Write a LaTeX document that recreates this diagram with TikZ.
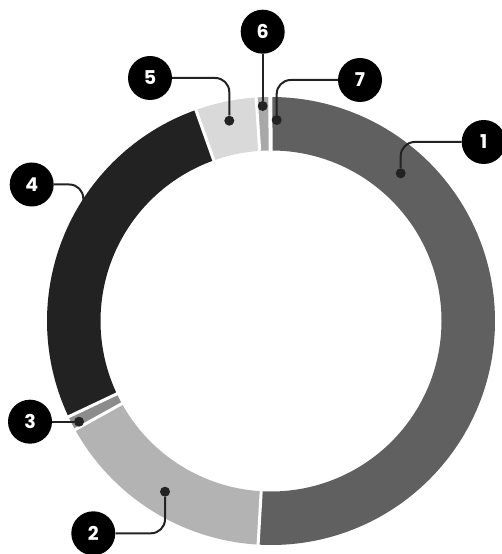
\documentclass[tikz,border=0pt]{standalone}
\usepackage{fontspec}
\newfontfamily\numfont{Poppins}
\definecolor{segA}{HTML}{606060}
\definecolor{segB}{HTML}{B3B3B3}
\definecolor{segC}{HTML}{8C8C8C}
\definecolor{segD}{HTML}{222222}
\definecolor{segE}{HTML}{D9D9D9}
\definecolor{segF}{HTML}{A8A8A8}
\definecolor{ink}{HTML}{222222}
\tikzset{
  badge/.style={circle,fill=black,minimum size=44pt,inner sep=0pt,text=white,font=\numfont\bfseries\fontsize{19}{19}\selectfont},
  dotmark/.style={circle,fill=ink,minimum size=10pt,inner sep=0pt},
  conn/.style={draw=ink,line width=2pt,rounded corners=14pt},
  gap/.style={draw=white,line width=3pt}
}
\newcommand{\ringseg}[3]{%
  \fill[#3] (#1:224) arc[start angle=#1,end angle=#2,radius=224] -- (#2:170.5) arc[start angle=#2,end angle=#1,radius=170.5] -- cycle;}
\begin{document}
\begin{tikzpicture}[x=1pt,y=1pt]
\useasboundingbox (0,0) rectangle (501,554);
\begin{scope}[shift={(271,233)}]
  \ringseg{-93.3}{90}{segA}
  \ringseg{209.0}{266.7}{segB}
  \ringseg{205.3}{209.0}{segC}
  \ringseg{109.6}{205.3}{segD}
  \ringseg{93.8}{109.6}{segE}
  \ringseg{90}{93.8}{segF}
  \foreach \a in {-93.3,209.0,205.3,109.6,93.8}{\draw[gap] (\a:166) -- (\a:228);}
  \draw[draw=white,line width=4pt] (90.15:166) -- (90.15:228);
\end{scope}
% dots
\node[dotmark] (d1) at (400.7,380.7) {};
\node[dotmark] (d2) at (165,62.3) {};
\node[dotmark] (d3) at (79,132.3) {};
\node[dotmark] (d4) at (83.3,340) {};
\node[dotmark] (d5) at (229.3,433.3) {};
\node[dotmark] (d6) at (262.7,448) {};
\node[dotmark] (d7) at (276.7,434) {};
% badges
\node[badge] (c1) at (483.7,412) {1};
\node[badge] (c2) at (93.3,20.7) {2};
\node[badge] (c3) at (30,132.3) {3};
\node[badge] (c4) at (31.7,369.5) {4};
\node[badge] (c5) at (150,476) {5};
\node[badge] (c6) at (262.7,522.3) {6};
\node[badge] (c7) at (360,474) {7};
% connectors
\draw[conn] (c1) -| (d1);
\draw[conn] (c2) -| (d2);
\draw[conn] (c3) -- (d3);
\draw[conn] (c4) -| (d4);
\draw[conn] (c5) -| (d5);
\draw[conn] (c6) -- (d6);
\draw[conn] (c7) -| (d7);
\end{tikzpicture}
\end{document}
